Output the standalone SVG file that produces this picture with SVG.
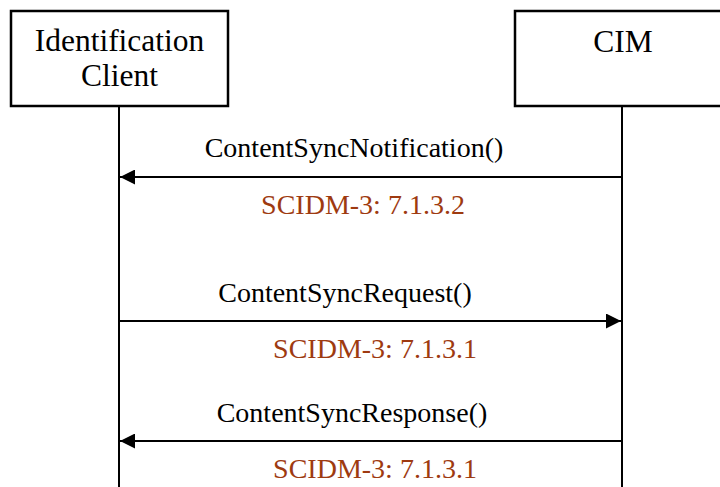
<svg xmlns="http://www.w3.org/2000/svg" width="720" height="487" viewBox="0 0 720 487">
<style>
.box{fill:#fff;stroke:#000;stroke-width:2.5}
.life{stroke:#000;stroke-width:2}
.msg{stroke:#000;stroke-width:2;fill:none}
.t{font-family:"Liberation Serif","Times New Roman",serif;font-size:28px;fill:#000;text-anchor:middle}
.n{font-family:"Liberation Serif","Times New Roman",serif;font-size:31.5px;fill:#000;text-anchor:middle}
.r{font-family:"Liberation Serif","Times New Roman",serif;font-size:28px;fill:#9E3A10;text-anchor:middle}
</style>
<defs>
<marker id="ah" viewBox="0 0 15 15" refX="15" refY="7.5" markerWidth="15" markerHeight="15" markerUnits="userSpaceOnUse" orient="auto">
<path d="M0,0 L15,7.5 L0,15 Z" fill="#000"/>
</marker>
</defs>
<g id="client">
<rect class="box" x="11" y="11" width="217" height="95"/>
<text class="n" x="119.5" y="51">Identification</text>
<text class="n" x="119.5" y="86">Client</text>
<line class="life" x1="119" y1="106" x2="119" y2="487"/>
</g>
<g id="cim">
<rect class="box" x="515" y="11" width="215" height="95"/>
<text class="n" x="623" y="52">CIM</text>
<line class="life" x1="622" y1="106" x2="622" y2="487"/>
</g>
<g id="connectors">
<line class="msg" x1="622" y1="177" x2="120" y2="177" marker-end="url(#ah)"/>
<text class="t" x="354" y="157">ContentSyncNotification()</text>
<text class="r" x="363" y="214">SCIDM-3: 7.1.3.2</text>
<line class="msg" x1="119" y1="321" x2="621" y2="321" marker-end="url(#ah)"/>
<text class="t" x="345" y="302">ContentSyncRequest()</text>
<text class="r" x="375" y="358">SCIDM-3: 7.1.3.1</text>
<line class="msg" x1="622" y1="441" x2="120" y2="441" marker-end="url(#ah)"/>
<text class="t" x="352" y="422">ContentSyncResponse()</text>
<text class="r" x="375" y="478">SCIDM-3: 7.1.3.1</text>
</g>
</svg>
